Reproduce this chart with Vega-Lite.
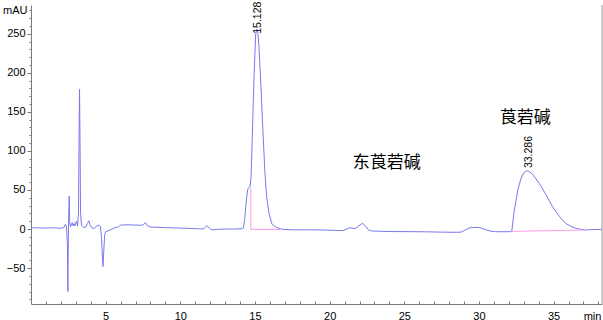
{
  "$schema": "https://vega.github.io/schema/vega-lite/v6.json",
  "width": 571,
  "height": 299,
  "autosize": {"type": "none"},
  "padding": {"left": 31, "top": 5, "right": 1, "bottom": 16},
  "config": {
    "view": {"stroke": null},
    "font": "Liberation Sans",
    "axis": {"grid": false, "domainColor": "#7a7a7a", "tickColor": "#7a7a7a", "labelColor": "#000000", "labelFont": "Liberation Sans", "titleFont": "Liberation Sans", "labelOverlap": false}
  },
  "datasets": {
    "trace": [
      {"t": 0, "v": 1.5}, {"t": 0.5, "v": 1.5}, {"t": 1.0, "v": 1.2}, {"t": 1.5, "v": 1.6}, {"t": 2.0, "v": 1.0},
      {"t": 2.2, "v": 2.0}, {"t": 2.3, "v": 6}, {"t": 2.38, "v": 3}, {"t": 2.44, "v": -20}, {"t": 2.47, "v": -80},
      {"t": 2.5, "v": -10}, {"t": 2.53, "v": 20}, {"t": 2.56, "v": 42}, {"t": 2.59, "v": 10}, {"t": 2.64, "v": 3},
      {"t": 2.7, "v": 5}, {"t": 2.76, "v": 8}, {"t": 2.82, "v": 4}, {"t": 2.88, "v": 7}, {"t": 2.94, "v": 4},
      {"t": 3.0, "v": 8}, {"t": 3.05, "v": 10}, {"t": 3.12, "v": 4}, {"t": 3.18, "v": 20}, {"t": 3.22, "v": 120},
      {"t": 3.25, "v": 179}, {"t": 3.28, "v": 120}, {"t": 3.32, "v": 20}, {"t": 3.38, "v": 5}, {"t": 3.5, "v": 2.5},
      {"t": 3.65, "v": 2}, {"t": 3.78, "v": 7}, {"t": 3.87, "v": 10.5}, {"t": 3.96, "v": 5}, {"t": 4.1, "v": 1},
      {"t": 4.25, "v": 1}, {"t": 4.4, "v": 4}, {"t": 4.55, "v": 5}, {"t": 4.65, "v": 3}, {"t": 4.72, "v": -10},
      {"t": 4.78, "v": -35}, {"t": 4.82, "v": -48}, {"t": 4.87, "v": -30}, {"t": 4.93, "v": -8}, {"t": 5.0, "v": -3.5},
      {"t": 5.2, "v": -2}, {"t": 5.5, "v": 0.5}, {"t": 5.7, "v": 2.5}, {"t": 5.8, "v": 2}, {"t": 6.0, "v": 5},
      {"t": 6.5, "v": 5.5}, {"t": 7.0, "v": 5}, {"t": 7.4, "v": 4.8}, {"t": 7.55, "v": 6}, {"t": 7.66, "v": 8},
      {"t": 7.8, "v": 4}, {"t": 8.0, "v": 2.5}, {"t": 9.0, "v": 1.8}, {"t": 10.0, "v": 1.2}, {"t": 11.0, "v": 0.5},
      {"t": 11.55, "v": 0}, {"t": 11.7, "v": 3}, {"t": 11.8, "v": 4.2}, {"t": 11.95, "v": 1}, {"t": 12.1, "v": -1},
      {"t": 12.5, "v": -0.5}, {"t": 13.0, "v": 0}, {"t": 13.5, "v": 0}, {"t": 14.0, "v": 0.2}, {"t": 14.15, "v": 0.5},
      {"t": 14.22, "v": 1}, {"t": 14.3, "v": 10}, {"t": 14.38, "v": 28}, {"t": 14.45, "v": 42}, {"t": 14.52, "v": 51},
      {"t": 14.6, "v": 53}, {"t": 14.67, "v": 54}, {"t": 14.74, "v": 67}, {"t": 14.82, "v": 118}, {"t": 14.93, "v": 191},
      {"t": 15.05, "v": 250}, {"t": 15.14, "v": 256}, {"t": 15.2, "v": 250}, {"t": 15.27, "v": 233}, {"t": 15.4, "v": 182},
      {"t": 15.54, "v": 122}, {"t": 15.67, "v": 71}, {"t": 15.78, "v": 41}, {"t": 15.94, "v": 20}, {"t": 16.12, "v": 7.3},
      {"t": 16.3, "v": 3.5}, {"t": 16.45, "v": 2}, {"t": 16.8, "v": -0.4}, {"t": 17.5, "v": -1}, {"t": 18.5, "v": -1},
      {"t": 19.5, "v": -1.2}, {"t": 20.5, "v": -1.8}, {"t": 20.9, "v": -2}, {"t": 21.15, "v": 0}, {"t": 21.35, "v": 1.7},
      {"t": 21.55, "v": 1}, {"t": 21.7, "v": 0.5}, {"t": 21.95, "v": 4}, {"t": 22.2, "v": 7.3}, {"t": 22.4, "v": 4},
      {"t": 22.6, "v": -1}, {"t": 22.8, "v": -2.5}, {"t": 23.5, "v": -3}, {"t": 24.5, "v": -3.3}, {"t": 25.5, "v": -3.4},
      {"t": 26.5, "v": -3.6}, {"t": 27.5, "v": -4}, {"t": 28.5, "v": -4.2}, {"t": 28.8, "v": -4}, {"t": 29.1, "v": -1},
      {"t": 29.4, "v": 1.7}, {"t": 29.9, "v": 2.2}, {"t": 30.2, "v": 1}, {"t": 30.5, "v": -1.3}, {"t": 30.8, "v": -2.8},
      {"t": 31.1, "v": -3.4}, {"t": 31.6, "v": -3.5}, {"t": 32.15, "v": -3.4}, {"t": 32.2, "v": -2.6}, {"t": 32.35, "v": 22},
      {"t": 32.5, "v": 38}, {"t": 32.6, "v": 50}, {"t": 32.82, "v": 65}, {"t": 33.0, "v": 72}, {"t": 33.2, "v": 74.6},
      {"t": 33.35, "v": 74}, {"t": 33.6, "v": 70}, {"t": 34.04, "v": 58.5}, {"t": 34.5, "v": 43.5}, {"t": 34.93, "v": 28.6},
      {"t": 35.4, "v": 15.8}, {"t": 35.8, "v": 7.3}, {"t": 36.2, "v": 3}, {"t": 36.5, "v": 0.9}, {"t": 37.05, "v": -1.3},
      {"t": 37.5, "v": -0.8}, {"t": 38.24, "v": -0.4}
    ],
    "base": [
      {"x1": 14.72, "x2": 14.72, "y1": -0.5, "y2": 52},
      {"x1": 14.72, "x2": 16.67, "y1": -0.5, "y2": -0.5},
      {"x1": 32.2, "x2": 37.0, "y1": -3, "y2": -1.3}
    ],
    "rt": [
      {"t": 15.17, "v": 250, "label": "15.128"},
      {"t": 33.38, "v": 78, "label": "33.286"}
    ],
    "names": [
      {"t": 23.82, "v": 84.5, "label": "东莨菪碱"},
      {"t": 33.1, "v": 142, "label": "莨菪碱"}
    ],
    "frame": [{"t": 38.24}]
  },
  "layer": [
    {
      "data": {"name": "trace"},
      "mark": {"type": "line", "color": "#7878f0", "strokeWidth": 1, "clip": true},
      "encoding": {
        "x": {
          "field": "t", "type": "quantitative",
          "scale": {"domain": [0, 38.24], "nice": false, "zero": false},
          "axis": {
            "values": [1,2,3,4,5,6,7,8,9,10,11,12,13,14,15,16,17,18,19,20,21,22,23,24,25,26,27,28,29,30,31,32,33,34,35,36,37,38],
            "tickCount": 200,
            "format": "d",
            "labelExpr": "datum.value % 5 === 0 ? datum.label : ''",
            "tickSize": -3, "labelPadding": 15, "labelBaseline": "middle", "labelFontSize": 11,
            "title": "min", "titleX": 561, "titleY": 12, "titleAlign": "center", "titleBaseline": "middle",
            "titleFontSize": 11, "titleFontWeight": "normal", "titleColor": "#000000", "labelFlush": false
          }
        },
        "y": {
          "field": "v", "type": "quantitative",
          "scale": {"domain": [-96, 286.8], "nice": false, "zero": false},
          "axis": {
            "values": [-90,-80,-70,-60,-50,-40,-30,-20,-10,0,10,20,30,40,50,60,70,80,90,100,110,120,130,140,150,160,170,180,190,200,210,220,230,240,250,260,270,280],
            "tickCount": 200,
            "format": "d",
            "labelExpr": "datum.value === 280 ? 'mAU' : (datum.value % 50 === 0 ? datum.label : '')",
            "tickSize": {"condition": {"test": "datum.value % 50 === 0", "value": 4}, "value": 2},
            "labelPadding": 2, "labelFontSize": 11, "title": null, "labelFlush": false
          }
        }
      }
    },
    {
      "data": {"name": "base"},
      "mark": {"type": "rule", "color": "#ff99e6", "strokeWidth": 1},
      "encoding": {
        "x": {"field": "x1", "type": "quantitative"},
        "x2": {"field": "x2"},
        "y": {"field": "y1", "type": "quantitative"},
        "y2": {"field": "y2"}
      }
    },
    {
      "data": {"name": "rt"},
      "mark": {"type": "text", "angle": 270, "align": "left", "baseline": "middle", "fontSize": 10.5, "font": "Liberation Sans", "color": "#000000"},
      "encoding": {
        "x": {"field": "t", "type": "quantitative"},
        "y": {"field": "v", "type": "quantitative"},
        "text": {"field": "label"}
      }
    },
    {
      "data": {"name": "names"},
      "mark": {"type": "text", "font": "Noto Sans CJK SC", "fontSize": 17, "align": "center", "baseline": "middle", "color": "#000000"},
      "encoding": {
        "x": {"field": "t", "type": "quantitative"},
        "y": {"field": "v", "type": "quantitative"},
        "text": {"field": "label"}
      }
    },
    {
      "data": {"name": "frame"},
      "mark": {"type": "rule", "color": "#9a9a9a", "strokeWidth": 1},
      "encoding": {"x": {"field": "t", "type": "quantitative"}}
    }
  ]
}
